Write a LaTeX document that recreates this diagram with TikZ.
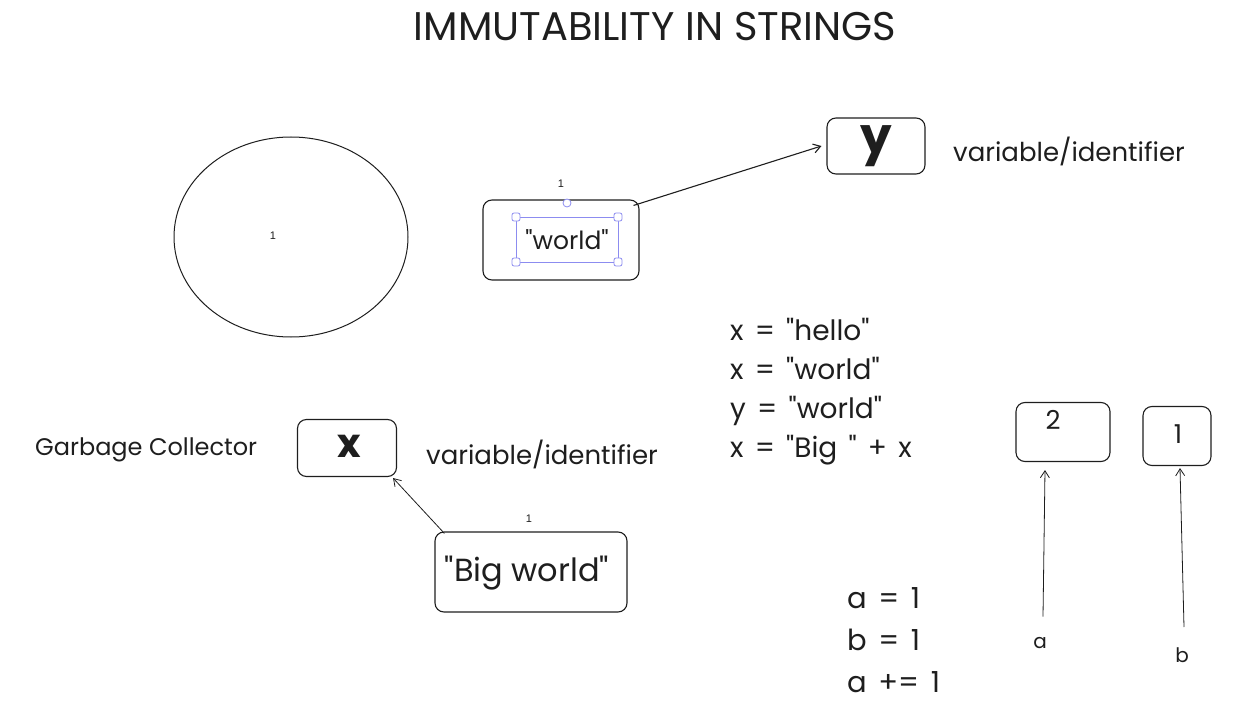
\documentclass[tikz,border=0pt]{standalone}
\usepackage{fontspec}
\setmainfont{Poppins}[Ligatures=TeXOff]
\newfontfamily\tagfont{Liberation Sans}
\usetikzlibrary{positioning, arrows.meta}
\definecolor{ink}{HTML}{1E1E1E}
\definecolor{pick}{HTML}{8C8CF0}

\newcommand{\widespace}{\spaceskip=0.4em plus 0.1em\relax}

\tikzset{
	box/.style={draw=ink, line width=1.1pt, rounded corners=9pt, inner sep=0pt},
	hand/.style={text=ink, inner sep=0pt, font=\fontsize{26}{30}\selectfont},
	code/.style={hand, anchor=base west, font=\fontsize{28}{32}\selectfont\widespace},
	tag/.style={text=ink, inner sep=0pt, font=\tagfont\fontsize{11}{13}\selectfont},
	link/.style={draw=ink, line width=0.8pt, -{Straight Barb[length=7pt, width=9pt]}},
	handle/.style={draw=pick, fill=white, line width=0.8pt, rounded corners=2pt}
}

\begin{document}
\begin{tikzpicture}[x=1pt, y=-1pt]
	\useasboundingbox (0,0) rectangle (1240,706);

	% title
	\node [hand, anchor=base, font=\fontsize{40}{44}\selectfont] (title) at (655,41) {IMMUTABILITY IN STRINGS};

	% pool of strings
	\draw [ink, line width=1pt] (291,237) ellipse [x radius=117, y radius=100];
	\node [tag] (poolCount) at (273,236) {1};

	% "world" object and y
	\node [box, minimum width=156, minimum height=80] (boxWorld) at (561,240) {};
	\node [hand, anchor=base, font=\fontsize{25}{30}\selectfont] (strWorld) at (567,249) {"world"};
	\draw [pick, line width=0.8pt] (516,217) rectangle (618,262);
	\foreach \px/\py in {516/217, 618/217, 516/262, 618/262}
		\draw [handle] (\px-4,\py-4) rectangle (\px+4,\py+4);
	\draw [handle] (567,203) circle [radius=4];
	\node [tag] (worldCount) at (561,184) {1};

	\node [box, minimum width=98, minimum height=56] (boxY) at (876,146) {};
	\node [hand, font=\bfseries\fontsize{50}{56}\selectfont] (nameY) at (876,146) {y};
	\node [hand, anchor=base west] (roleY) at (953,162) {variable/identifier};
	\draw [link, line width=1.1pt] ([xshift=-6pt, yshift=-6pt]boxWorld.north east) -- ([xshift=-5pt]boxY.west);

	% code listing
	\node [code] (codeA) at (730,340) {x = "hello"};
	\node [code] (codeB) at (730,379) {x = "world"};
	\node [code] (codeC) at (730,418) {y = "world"};
	\node [code] (codeD) at (730,457) {x = "Big " + x};

	% x and "Big world"
	\node [hand, anchor=base west, font=\fontsize{24}{28}\selectfont] (gc) at (35,455) {Garbage Collector};
	\node [box, minimum width=99, minimum height=57] (boxX) at (347,448) {};
	\node [hand, font=\bfseries\fontsize{40}{46}\selectfont] (nameX) at (349,446) {x};
	\node [hand, anchor=base west] (roleX) at (426,464) {variable/identifier};

	\node [box, minimum width=192, minimum height=80] (boxBig) at (531,572) {};
	\node [hand, anchor=base, font=\fontsize{32}{36}\selectfont] (strBig) at (527,581) {"Big world"};
	\node [tag] (bigCount) at (529,519) {1};
	\draw [link] ([xshift=10pt, yshift=-2pt]boxBig.north west) -- ([xshift=-4pt, yshift=-1pt]boxX.south east);

	% integers
	\node [code, font=\fontsize{29}{32}\selectfont\widespace] (intA) at (847,608) {a = 1};
	\node [code, font=\fontsize{29}{32}\selectfont\widespace] (intB) at (847,650) {b = 1};
	\node [code, font=\fontsize{29}{32}\selectfont\widespace] (intC) at (847,692) {a += 1};

	\node [box, minimum width=94, minimum height=59] (boxTwo) at (1063,432) {};
	\node [hand, anchor=base] (valTwo) at (1053,429) {2};
	\node [box, minimum width=68, minimum height=59] (boxOne) at (1177,436) {};
	\node [hand, anchor=base] (valOne) at (1178,443) {1};

	\node [hand, anchor=base, font=\fontsize{20}{24}\selectfont] (nameA) at (1040,648) {a};
	\node [hand, anchor=base, font=\fontsize{20}{24}\selectfont] (nameB) at (1182,662) {b};
	\draw [link] ([xshift=3pt, yshift=20pt]nameA.north) -- ([xshift=-18pt, yshift=-8pt]boxTwo.south);
	\draw [link] ([xshift=2pt, yshift=20pt]nameB.north) -- ([xshift=3pt, yshift=-2pt]boxOne.south);
\end{tikzpicture}
\end{document}
